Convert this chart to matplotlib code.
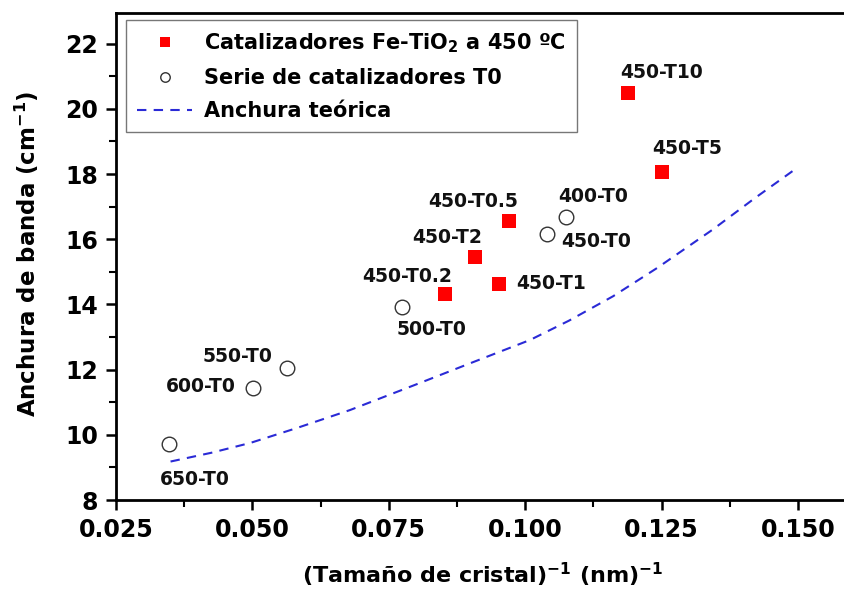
import matplotlib
matplotlib.use("Agg")
import matplotlib.pyplot as plt
from matplotlib.ticker import MultipleLocator, FormatStrFormatter

plt.rcParams['font.family'] = ['DejaVu Sans']
plt.rcParams['font.weight'] = 'bold'
plt.rcParams['mathtext.fontset'] = 'custom'
plt.rcParams['mathtext.rm'] = 'DejaVu Sans:bold'
plt.rcParams['mathtext.bf'] = 'DejaVu Sans:bold'
plt.rcParams['mathtext.it'] = 'DejaVu Sans:bold'
plt.rcParams['mathtext.default'] = 'rm'

# Fe-TiO2 catalysts at 450 ºC
fe_labels = ['450-T10', '450-T5', '450-T0.5', '450-T2', '450-T1', '450-T0.2']
fe_x = [0.1188, 0.1250, 0.0970, 0.0908, 0.0952, 0.0853]
fe_y = [20.48, 18.06, 16.56, 15.45, 14.63, 14.32]

# T0 series
t0_labels = ['400-T0', '450-T0', '500-T0', '550-T0', '600-T0', '650-T0']
t0_x = [0.1075, 0.1040, 0.0774, 0.0563, 0.0501, 0.0347]
t0_y = [16.68, 16.16, 13.92, 12.05, 11.44, 9.72]

# Theoretical width curve
th_x = [0.035, 0.0425, 0.0496, 0.058, 0.0679, 0.0807, 0.090, 0.1009, 0.108,
        0.1161, 0.1242, 0.1344, 0.142, 0.150]
th_y = [9.18, 9.45, 9.75, 10.20, 10.76, 11.59, 12.20, 12.91, 13.50,
        14.25, 15.12, 16.30, 17.25, 18.21]

# label offsets (pixels) and alignment
fe_off = [(-8, 21, 'left'), (-9, 24, 'left'), (9, 19, 'right'),
          (7, 20, 'right'), (17, 0, 'left'), (7, 17, 'right')]
t0_off = [(-8, 21, 'left'), (14, -7, 'left'), (-5, -22, 'left'),
          (-14, 11, 'right'), (-17, 1, 'right'), (-9, -36, 'left')]

fig = plt.figure(figsize=(8.44, 5.89), dpi=100)
ax = fig.add_axes([116/844, 89/589, 728/844, 487/589])

ax.plot(th_x, th_y, color='#2a2ad6', lw=1.5, linestyle=(0, (4.5, 3.5)),
        label='Anchura teórica', zorder=2)
ax.plot(fe_x, fe_y, 's', color='#ff0000', markersize=10, markeredgewidth=0,
        label='Catalizadores Fe-TiO$_2$ a 450 ºC', zorder=3)
ax.plot(t0_x, t0_y, 'o', markerfacecolor='white', markeredgecolor='#333333',
        markersize=10.5, markeredgewidth=1.0,
        label='Serie de catalizadores T0', zorder=3)

for lab, x, y, (dx, dy, ha) in zip(fe_labels, fe_x, fe_y, fe_off):
    ax.annotate(lab, (x, y), xytext=(dx, dy), textcoords='offset pixels',
                ha=ha, va='center', fontsize=13.5, fontweight='bold',
                color='#111111')
for lab, x, y, (dx, dy, ha) in zip(t0_labels, t0_x, t0_y, t0_off):
    ax.annotate(lab, (x, y), xytext=(dx, dy), textcoords='offset pixels',
                ha=ha, va='center', fontsize=13.5, fontweight='bold',
                color='#111111')

ax.set_xlim(0.025, 0.15843)
ax.set_ylim(8, 22.94)
ax.xaxis.set_major_locator(MultipleLocator(0.025))
ax.xaxis.set_minor_locator(MultipleLocator(0.0125))
ax.yaxis.set_major_locator(MultipleLocator(2))
ax.yaxis.set_minor_locator(MultipleLocator(1))
ax.xaxis.set_major_formatter(FormatStrFormatter('%.3f'))

for s in ['left', 'bottom', 'top']:
    ax.spines[s].set_linewidth(2)
ax.spines['right'].set_visible(False)
ax.tick_params(which='major', direction='out', length=7, width=1.8,
               labelsize=17)
ax.tick_params(axis='x', which='major', pad=6)
ax.tick_params(axis='y', which='major', pad=6)
ax.tick_params(which='minor', direction='out', length=5, width=1.5)
ax.tick_params(top=False, right=False)

ax.set_xlabel('(Tamaño de cristal)$^{-1}$ (nm)$^{-1}$', fontsize=16,
              fontweight='bold')
ax.set_ylabel('Anchura de banda (cm$^{-1}$)', fontsize=16.5,
              fontweight='bold')
ax.xaxis.set_label_coords(0.503, -0.124)
ax.yaxis.set_label_coords(-0.103, 0.505)

handles, labels = ax.get_legend_handles_labels()
order = [1, 2, 0]
leg = ax.legend([handles[i] for i in order], [labels[i] for i in order],
                loc='upper left', bbox_to_anchor=(126/844, 1 - 20/589),
                bbox_transform=fig.transFigure, fontsize=15, markerscale=0.65,
                frameon=True, fancybox=False, edgecolor='#555555',
                borderpad=0.55, labelspacing=0.62, handlelength=2.6,
                handletextpad=0.6, borderaxespad=0)
leg.get_frame().set_linewidth(1.0)

fig.savefig('out.png', dpi=100)
